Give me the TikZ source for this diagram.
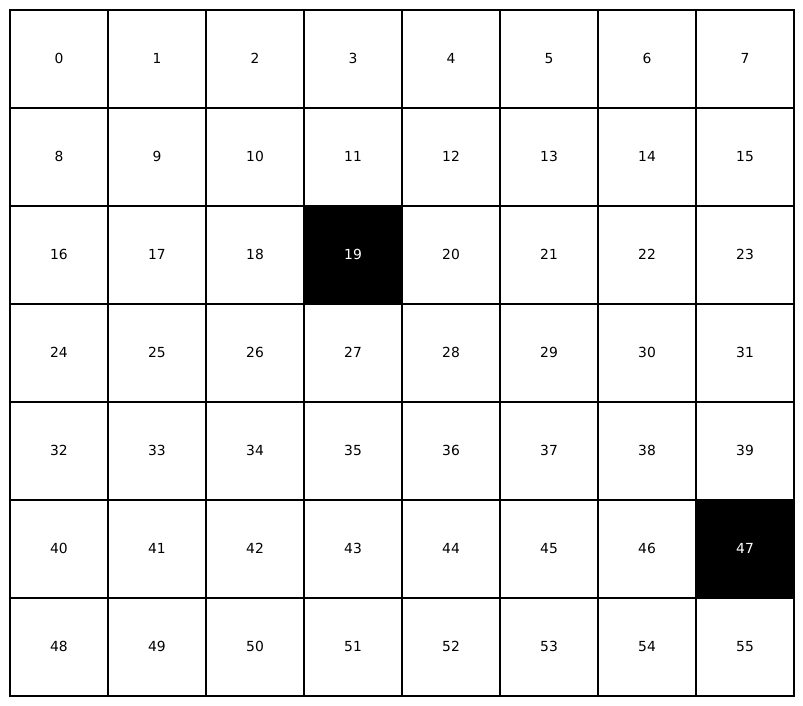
\documentclass[tikz,border=0pt]{standalone}
\usepackage{fontspec}
\setmainfont{DejaVu Sans}
\begin{document}
\begin{tikzpicture}[x=0.75pt,y=-0.75pt,
  cell/.style={draw=black,line width=0.9pt,minimum width=73.5pt,minimum height=73.5pt,inner sep=0pt,outer sep=0pt,anchor=center,font=\fontsize{10.4}{12}\selectfont,text height=7.6pt,text depth=1.2pt,fill=white,text=black},
  darkcell/.style={cell,fill=black,text=white}]
\useasboundingbox (0,0) rectangle (803,706);
\foreach \r in {0,...,6}{
  \foreach \c in {0,...,7}{
    \pgfmathtruncatemacro{\n}{\r*8+\c}
    \ifnum\n=19 \def\st{darkcell}\else\ifnum\n=47 \def\st{darkcell}\else\def\st{cell}\fi\fi
    \node[\st] (c\n) at ({59+98*\c},{59+98*\r}) {\n};
  }
}
\draw[line width=1.2pt] (c0.north west) rectangle (c55.south east);
\end{tikzpicture}
\end{document}
